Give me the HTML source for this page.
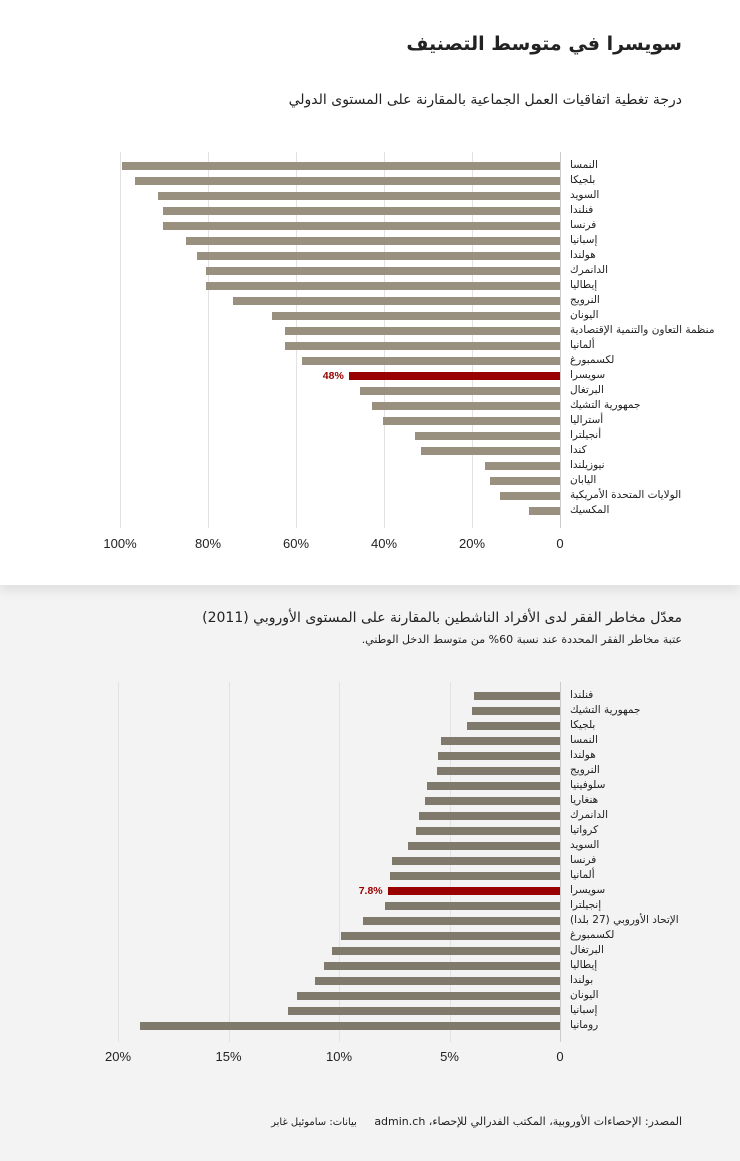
<!DOCTYPE html>
<html><head><meta charset="utf-8">
<style>
body{margin:0;width:740px;height:1161px;position:relative;background:#f3f3f3;font-family:"DejaVu Sans","Liberation Sans",sans-serif;overflow:hidden}
#top{position:absolute;left:0;top:0;width:740px;height:585px;background:#fff;box-shadow:0 6px 10px rgba(0,0,0,0.08)}
.t{position:absolute;white-space:nowrap;direction:rtl;color:#222}
.lbl{position:absolute;white-space:nowrap;direction:rtl;font-size:10.5px;color:#222;left:570px;text-align:left;line-height:12px}
.tick{position:absolute;font-family:"Liberation Sans",sans-serif;font-size:13px;color:#222;transform:translateX(-50%)}
.grid{position:absolute;width:1px;background:#e2e2e2}
.bar{position:absolute;height:8px}
.val{position:absolute;font-family:"Liberation Sans",sans-serif;font-weight:bold;font-size:10.5px;color:#990000;line-height:12px}
</style></head>
<body>
<div id="top"></div>
<div class="t" style="right:58px;top:33px;font-size:19px;font-weight:bold">سويسرا في متوسط التصنيف</div>
<div class="t" style="right:58px;top:92px;font-size:14px">درجة تغطية اتفاقيات العمل الجماعية بالمقارنة على المستوى الدولي</div>
<div class="t" style="right:58px;top:610px;font-size:14px">معدّل مخاطر الفقر لدى الأفراد الناشطين بالمقارنة على المستوى الأوروبي (2011)</div>
<div class="t" style="right:58px;top:633px;font-size:11px">عتبة مخاطر الفقر المحددة عند نسبة 60% من متوسط الدخل الوطني.</div>
<div class="t" style="right:58px;top:1115px;font-size:11px">المصدر: الإحصاءات الأوروبية، المكتب الفدرالي للإحصاء، admin.ch &nbsp;&nbsp;&nbsp; <span style="font-size:10px">بيانات: ساموئيل غابر</span></div>
<div id="c1"></div>
<div id="c2"></div>
<script>
const cats1=["النمسا","بلجيكا","السويد","فنلندا","فرنسا","إسبانيا","هولندا","الدانمرك","إيطاليا","النرويج","اليونان","منظمة التعاون والتنمية الإقتصادية","ألمانيا","لكسمبورغ","سويسرا","البرتغال","جمهورية التشيك","أستراليا","أنجيلترا","كندا","نيوزيلندا","اليابان","الولايات المتحدة الأمريكية","المكسيك"];
const vals1=[99.5,96.6,91.4,90.2,90.2,85,82.5,80.5,80.5,74.3,65.5,62.5,62.5,58.6,48,45.5,42.7,40.2,33,31.6,17,16,13.6,7];
const ticks1=[100,80,60,40,20,0];
const tickLabels1=["100%","80%","60%","40%","20%","0"];
const cats2=["فنلندا","جمهورية التشيك","بلجيكا","النمسا","هولندا","النرويج","سلوفينيا","هنغاريا","الدانمرك","كرواتيا","السويد","فرنسا","ألمانيا","سويسرا","إنجيلترا","الإتحاد الأوروبي (27 بلدا)","لكسمبورغ","البرتغال","إيطاليا","بولندا","اليونان","إسبانيا","رومانيا"];
const vals2=[3.9,4.0,4.2,5.4,5.5,5.55,6.0,6.1,6.4,6.5,6.9,7.6,7.7,7.8,7.9,8.9,9.9,10.3,10.7,11.1,11.9,12.3,19.0];
const ticks2=[20,15,10,5,0];
const tickLabels2=["20%","15%","10%","5%","0"];

function draw(root,cats,vals,ticks,tlabels,o){
  const x=v=>o.x0-v*o.ppu;
  const y=i=>o.y0+i*15;
  ticks.forEach((t,i)=>{
    const g=document.createElement('div');g.className='grid';
    
    
    g.style.left=x(t)+'px';g.style.top=o.gTop+'px';g.style.height=(o.gBot-o.gTop)+'px';
    if(t===0)g.style.background='#ccc';
    root.appendChild(g);
    const l=document.createElement('div');l.className='tick';
    
    
    l.style.left=x(t)+'px';l.style.top=o.tTop+'px';l.textContent=tlabels[i];
    root.appendChild(l);
  });
  cats.forEach((c,i)=>{
    const hl=i===o.hi;
    const b=document.createElement('div');b.className='bar';
    
    
    b.style.left=x(vals[i])+'px';b.style.width=(vals[i]*o.ppu)+'px';
    b.style.top=(y(i)-4)+'px';b.style.background=hl?'#990000':o.col;
    root.appendChild(b);
    const l=document.createElement('div');l.className='lbl';
    
    
    l.style.top=(y(i)-7)+'px';l.textContent=c;
    root.appendChild(l);
    if(hl){
      const v=document.createElement('div');v.className='val';
      
      
      v.style.right=(740-x(vals[i])+5)+'px';v.style.top=(y(i)-6)+'px';
      v.textContent=o.fmt(vals[i]);
      root.appendChild(v);
    }
  });
}
draw(document.getElementById('c1'),cats1,vals1,ticks1,tickLabels1,{x0:560,ppu:4.4,y0:166,gTop:152,gBot:528,tTop:536,col:'#9a9080',hi:14,fmt:v=>v+'%'});
draw(document.getElementById('c2'),cats2,vals2,ticks2,tickLabels2,{x0:560,ppu:22.1,y0:696,gTop:682,gBot:1042,tTop:1049,col:'#807a6c',hi:13,fmt:v=>v+'%'});
</script>
</body></html>
